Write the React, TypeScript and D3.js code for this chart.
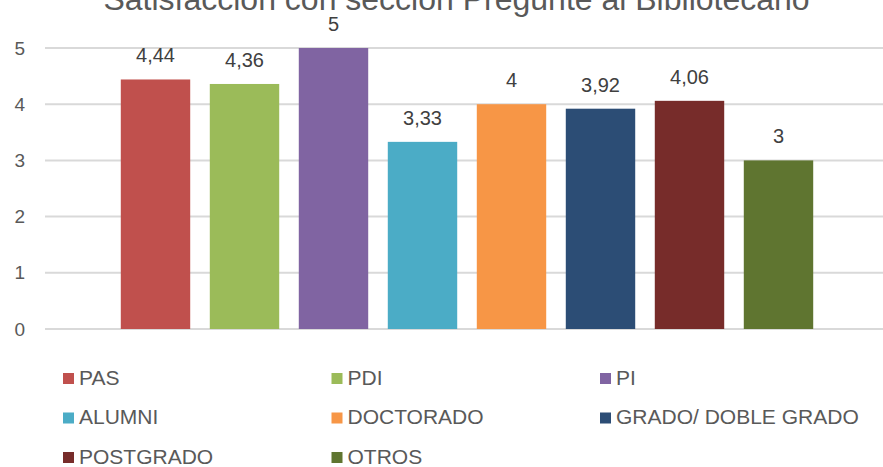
import React, { useEffect, useRef } from "react";
import * as d3 from "d3";

const categories = ["PAS", "PDI", "PI", "ALUMNI", "DOCTORADO", "GRADO/ DOBLE GRADO", "POSTGRADO", "OTROS"];
const values = [4.44, 4.36, 5, 3.33, 4, 3.92, 4.06, 3];
const colors = ["#C0504D", "#9BBB59", "#8064A2", "#4BACC6", "#F79646", "#2C4D75", "#772C2A", "#5F7530"];
const yTicks = [0, 1, 2, 3, 4, 5];
const title = "Satisfacción con sección Pregunte al Bibliotecario";

const W = 883;
const H = 467;
const FONT = "'Liberation Sans', Arial, sans-serif";
const TEXT = "#595959";

const fmt = (v: number) => String(v).replace(".", ",");

const App = () => {
  const svgRef = useRef<SVGSVGElement>(null);

  useEffect(() => {
    const svg = d3.select(svgRef.current);
    svg.selectAll("*").remove();

    const plot = { left: 45, right: 889, top: 48, bottom: 329 };

    const y = d3.scaleLinear().domain([0, 5]).range([plot.bottom, plot.top]);
    const x = d3
      .scaleBand<string>()
      .domain(categories)
      .range([111, 823])
      .paddingInner(0.22)
      .paddingOuter(0.11);

    // gridlines
    svg
      .append("g")
      .selectAll("line")
      .data(yTicks)
      .enter()
      .append("line")
      .attr("x1", plot.left)
      .attr("x2", plot.right)
      .attr("y1", (d) => y(d))
      .attr("y2", (d) => y(d))
      .attr("stroke", "#D9D9D9")
      .attr("stroke-width", 2);

    // y tick labels
    svg
      .append("g")
      .selectAll("text")
      .data(yTicks)
      .enter()
      .append("text")
      .attr("x", 25)
      .attr("y", (d) => y(d))
      .attr("dy", "0.35em")
      .attr("text-anchor", "end")
      .style("font-family", FONT)
      .style("font-size", "19px")
      .attr("fill", TEXT)
      .text((d) => d);

    // bars
    svg
      .append("g")
      .selectAll("rect")
      .data(values)
      .enter()
      .append("rect")
      .attr("x", (d, i) => x(categories[i]) as number)
      .attr("y", (d) => y(d))
      .attr("width", x.bandwidth())
      .attr("height", (d) => y(0) - y(d))
      .attr("fill", (d, i) => colors[i]);

    // data labels
    svg
      .append("g")
      .selectAll("text")
      .data(values)
      .enter()
      .append("text")
      .attr("x", (d, i) => (x(categories[i]) as number) + x.bandwidth() / 2)
      .attr("y", (d) => y(d) - 17)
      .attr("text-anchor", "middle")
      .style("font-family", FONT)
      .style("font-size", "20px")
      .attr("fill", "#404040")
      .text((d) => fmt(d));

    // title (cropped at top in the original)
    svg
      .append("text")
      .attr("x", 456.5)
      .attr("y", 10)
      .attr("text-anchor", "middle")
      .style("font-family", FONT)
      .style("font-size", "32px")
      .attr("fill", TEXT)
      .text(title);

    // legend: 3 columns
    const legend = svg
      .append("g")
      .selectAll("g")
      .data(categories)
      .enter()
      .append("g")
      .attr("transform", (d, i) => `translate(${63 + (i % 3) * 268.5},${384.5 + Math.floor(i / 3) * 39.5})`);

    legend
      .append("rect")
      .attr("x", 0)
      .attr("y", -11.5)
      .attr("width", 11)
      .attr("height", 11)
      .attr("fill", (d, i) => colors[i]);

    legend
      .append("text")
      .attr("x", 16)
      .attr("y", 0)
      .style("font-family", FONT)
      .style("font-size", "21px")
      .attr("fill", TEXT)
      .text((d) => d);
  }, []);

  return (
    <svg
      ref={svgRef}
      width={W}
      height={H}
      style={{ position: "absolute", left: 0, top: 0, background: "#fff" }}
    />
  );
};

export default App;
